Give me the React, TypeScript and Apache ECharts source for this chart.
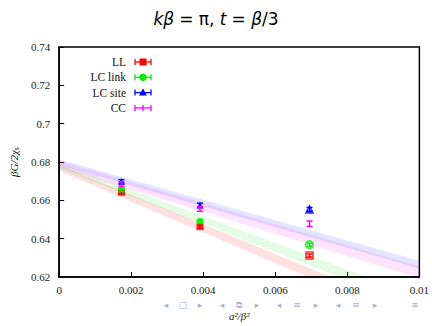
import React, { useEffect, useRef } from 'react';
import * as echarts from 'echarts';

// ---- data ----
const xVals = [0.00173, 0.00391, 0.00695];
const seriesNames = ['LL', 'LC link', 'LC site', 'CC'];
const seriesColors = ['#ff0000', '#00ee00', '#0000ff', '#ff00ff'];
const llVals = [0.6642, 0.6463, 0.6312];
const llErr = [0.0008, 0.0008, 0.0008];
const lcLinkVals = [0.6656, 0.6489, 0.6369];
const lcLinkErr = [0.0008, 0.0008, 0.0008];
const lcSiteVals = [0.6698, 0.6575, 0.6553];
const lcSiteErr = [0.001, 0.001, 0.001];
const ccVals = [0.6685, 0.6555, 0.6478];
const ccErr = [0.0012, 0.0012, 0.0014];
const hollowFrom = 2; // index from which markers are open

// fit bands (x from 0 to 0.01)
const bandX = [0, 0.01];
const llBandLow = [0.6755, 0.595];
const llBandHigh = [0.6785, 0.601];
const lcLinkBandLow = [0.6765, 0.604];
const lcLinkBandHigh = [0.6795, 0.61];
const lcSiteBandLow = [0.6785, 0.6245];
const lcSiteBandHigh = [0.6815, 0.6285];
const ccBandLow = [0.677, 0.6195];
const ccBandHigh = [0.6805, 0.6255];

const xTicks = { min: 0, max: 0.01, interval: 0.002 };
const yTicks = { min: 0.62, max: 0.74, interval: 0.02 };

const fmt = (v: number) => String(parseFloat(v.toFixed(4)));

const serif = '"Liberation Serif", "DejaVu Serif", serif';

function bandSeries(name: string, low: number[], high: number[], color: string) {
  const data = bandX.map((x, i) => [x, low[i], high[i]]);
  return {
    type: 'custom',
    name: name + ' band',
    clip: true,
    silent: true,
    z: 1,
    data,
    renderItem: (params: any, api: any) => {
      if (params.dataIndex !== 0) return { type: 'group', children: [] };
      const top = data.map((d) => api.coord([d[0], d[2]]));
      const bot = data.map((d) => api.coord([d[0], d[1]])).reverse();
      return {
        type: 'polygon',
        shape: { points: top.concat(bot) },
        style: { fill: color },
      };
    },
  };
}

function errSeries(name: string, vals: number[], errs: number[], color: string) {
  return {
    type: 'custom',
    name: name + ' err',
    silent: true,
    z: 5,
    data: xVals.map((x, i) => [x, vals[i], errs[i]]),
    renderItem: (params: any, api: any) => {
      const x = api.value(0), y = api.value(1), e = api.value(2);
      const lo = api.coord([x, y - e]);
      const hi = api.coord([x, y + e]);
      const w = 3;
      const st = { stroke: color, lineWidth: 1.5 };
      return {
        type: 'group',
        children: [
          { type: 'line', shape: { x1: lo[0], y1: lo[1], x2: hi[0], y2: hi[1] }, style: st },
          { type: 'line', shape: { x1: lo[0] - w, y1: lo[1], x2: lo[0] + w, y2: lo[1] }, style: st },
          { type: 'line', shape: { x1: hi[0] - w, y1: hi[1], x2: hi[0] + w, y2: hi[1] }, style: st },
        ],
      };
    },
  };
}

function markerSeries(name: string, vals: number[], color: string, symbol: string, size: number) {
  return {
    type: 'scatter',
    name,
    z: 4,
    symbol,
    symbolSize: size,
    data: xVals.map((x, i) => ({
      value: [x, vals[i]],
      itemStyle:
        i >= hollowFrom
          ? { color: 'rgba(255,255,255,0)', borderColor: color, borderWidth: 1.6 }
          : { color, borderColor: color, borderWidth: 0 },
    })),
  };
}

function legendGraphic() {
  const els: any[] = [];
  const x0 = 135, x1 = 151, xm = 143, tx = 126;
  seriesNames.forEach((n, i) => {
    const y = 62 + 15.3 * i;
    const c = seriesColors[i];
    els.push({
      type: 'text',
      x: tx,
      y,
      style: { text: n, fontFamily: serif, fontSize: 11.5, fill: '#111', align: 'right', verticalAlign: 'middle' },
    });
    const st = { stroke: c, lineWidth: 1.3 };
    els.push({ type: 'line', shape: { x1: x0, y1: y, x2: x1, y2: y }, style: st });
    els.push({ type: 'line', shape: { x1: x0, y1: y - 3, x2: x0, y2: y + 3 }, style: st });
    els.push({ type: 'line', shape: { x1: x1, y1: y - 3, x2: x1, y2: y + 3 }, style: st });
    if (i === 0) els.push({ type: 'rect', shape: { x: xm - 3.5, y: y - 3.5, width: 7, height: 7 }, style: { fill: c } });
    if (i === 1) els.push({ type: 'circle', shape: { cx: xm, cy: y, r: 3.8 }, style: { fill: c } });
    if (i === 2)
      els.push({ type: 'polygon', shape: { points: [[xm, y - 4], [xm - 4, y + 3], [xm + 4, y + 3]] }, style: { fill: c } });
    if (i === 3) els.push({ type: 'line', shape: { x1: xm, y1: y - 3, x2: xm, y2: y + 3 }, style: st });
  });
  return els;
}

function navGraphic() {
  const col = '#adadde';
  const items = [
    { t: '◂', x: 166 }, { t: '□', x: 183 }, { t: '▸', x: 200 },
    { t: '◂', x: 222 }, { t: '⧉', x: 239 }, { t: '▸', x: 257 },
    { t: '◂', x: 279 }, { t: '≡', x: 297 }, { t: '▸', x: 316 },
    { t: '◂', x: 338 }, { t: '≡', x: 356 }, { t: '▸', x: 375 },
    { t: '≡', x: 415 },
  ];
  return items.map((it) => ({
    type: 'text',
    x: it.x,
    y: 305,
    z: 10,
    style: { text: it.t, fontFamily: '"DejaVu Sans", sans-serif', fontSize: 9, fill: col, align: 'center', verticalAlign: 'middle' },
  }));
}

export default function App() {
  const ref = useRef<HTMLDivElement>(null);
  useEffect(() => {
    if (!ref.current) return;
    const chart = echarts.init(ref.current, undefined, { renderer: 'svg' });
    const option: any = {
      animation: false,
      backgroundColor: '#fff',
      title: {
        text: '{i|kβ} {n|= π, }{i|t} {n|= }{i|β}{n|/3}',
        left: 'center',
        top: 5,
        textStyle: {
          rich: {
            i: { fontFamily: '"DejaVu Sans", sans-serif', fontStyle: 'italic', fontWeight: 'normal', fontSize: 17, color: '#000' },
            n: { fontFamily: '"DejaVu Sans", sans-serif', fontWeight: 'normal', fontSize: 17, color: '#000' },
          },
        },
      },
      grid: {
        left: 58,
        right: 9,
        top: 47,
        bottom: 42,
        show: true,
        borderColor: '#000',
        borderWidth: 1.5,
        backgroundColor: 'transparent',
        z: 3,
      },
      xAxis: {
        type: 'value',
        min: xTicks.min,
        max: xTicks.max,
        interval: xTicks.interval,
        name: 'a²/β²',
        nameLocation: 'middle',
        nameGap: 33,
        nameTextStyle: { fontFamily: serif, fontStyle: 'italic', fontSize: 11, color: '#111' },
        axisLine: { show: true, lineStyle: { color: '#000', width: 1.5 } },
        axisTick: { show: true, inside: true, length: 5, lineStyle: { color: '#000', width: 1 } },
        axisLabel: { margin: 7, fontFamily: serif, fontSize: 11, color: '#222', formatter: fmt },
        splitLine: { show: false },
      },
      yAxis: {
        type: 'value',
        min: yTicks.min,
        max: yTicks.max,
        interval: yTicks.interval,
        name: '{a|βG/2χ}{b|s}',
        nameLocation: 'middle',
        nameGap: 36,
        nameRotate: 90,
        nameTextStyle: {
          rich: {
            a: { fontFamily: serif, fontStyle: 'italic', fontSize: 11, color: '#111' },
            b: { fontFamily: serif, fontStyle: 'italic', fontSize: 8, color: '#111', padding: [5, 0, 0, 0] },
          },
        },
        axisLine: { show: true, lineStyle: { color: '#000', width: 1.5 } },
        axisTick: { show: true, inside: true, length: 5, lineStyle: { color: '#000', width: 1 } },
        axisLabel: { margin: 9, fontFamily: serif, fontSize: 11, color: '#222', formatter: fmt },
        splitLine: { show: false },
      },
      series: [
        bandSeries('LL', llBandLow, llBandHigh, 'rgba(255,0,0,0.12)'),
        bandSeries('LC link', lcLinkBandLow, lcLinkBandHigh, 'rgba(0,230,0,0.11)'),
        bandSeries('CC', ccBandLow, ccBandHigh, 'rgba(255,0,255,0.11)'),
        bandSeries('LC site', lcSiteBandLow, lcSiteBandHigh, 'rgba(0,0,255,0.1)'),
        markerSeries('LL', llVals, seriesColors[0], 'rect', 7),
        markerSeries('LC link', lcLinkVals, seriesColors[1], 'circle', 7.5),
        markerSeries('LC site', lcSiteVals, seriesColors[2], 'triangle', 7),
        errSeries('LL', llVals, llErr, seriesColors[0]),
        errSeries('LC link', lcLinkVals, lcLinkErr, seriesColors[1]),
        errSeries('LC site', lcSiteVals, lcSiteErr, seriesColors[2]),
        errSeries('CC', ccVals, ccErr, seriesColors[3]),
      ],
      graphic: [...legendGraphic(), ...navGraphic()],
    };
    chart.setOption(option);
    return () => chart.dispose();
  }, []);
  return <div ref={ref} style={{ width: 432, height: 326, position: 'absolute', left: 0, top: 0 }} />;
}
